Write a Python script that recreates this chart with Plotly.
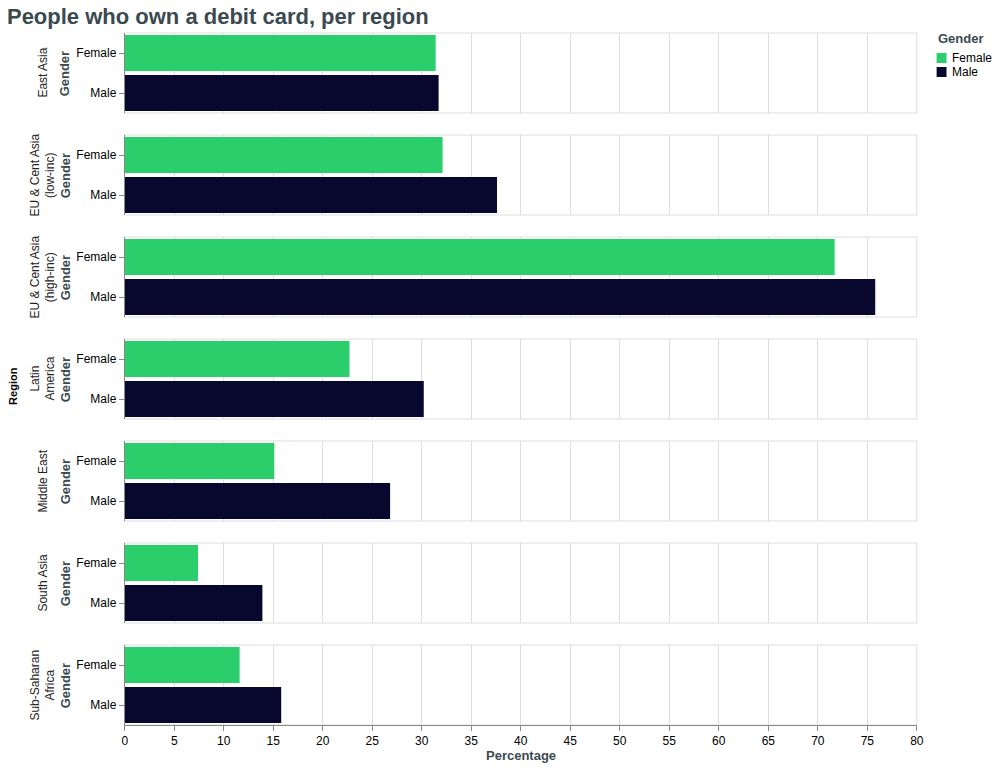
import plotly.graph_objects as go

# ---- data ----
regions = ["East Asia", "EU & Cent Asia (low-inc)", "EU & Cent Asia (high-inc)",
           "Latin America", "Middle East", "South Asia", "Sub-Saharan Africa"]
region_labels = ["East Asia", "EU & Cent Asia<br>(low-inc)", "EU & Cent Asia<br>(high-inc)",
                 "Latin<br>America", "Middle East", "South Asia", "Sub-Saharan<br>Africa"]
genders = ["Female", "Male"]
female_pct = [31.4, 32.1, 71.7, 22.7, 15.1, 7.4, 11.6]
male_pct = [31.7, 37.6, 75.8, 30.2, 26.8, 13.9, 15.8]
x_tick_vals = [0, 5, 10, 15, 20, 25, 30, 35, 40, 45, 50, 55, 60, 65, 70, 75, 80]

# ---- style ----
W, H = 1004, 767
FONT = "Liberation Sans, Arial, Helvetica, sans-serif"
GREEN = "#2acf6b"
NAVY = "#08082e"
SLATE = "#3a4a50"
GRID = "#dddddd"
AXIS = "#888888"
colors = {"Female": GREEN, "Male": NAVY}

X0, X1 = 123, 923
PANEL_TOP0, PANEL_H, PANEL_STEP = 33, 80, 102

def px(x):
    return x / W

def py(y):
    return 1 - y / H

fig = go.Figure()
shapes = []
annotations = []
n = len(regions)
values = {"Female": female_pct, "Male": male_pct}

for k in range(n):
    suffix = "" if k == 0 else str(k + 1)
    for g in genders:
        fig.add_trace(go.Bar(
            x=[values[g][k]], y=[g], orientation="h", name=g,
            marker=dict(color=colors[g], line=dict(width=0)),
            xaxis="x" + suffix, yaxis="y" + suffix, showlegend=False,
            hovertemplate=regions[k] + "<br>%{y}: %{x}%<extra></extra>",
        ))
    top = PANEL_TOP0 + k * PANEL_STEP
    bot = top + PANEL_H
    last = (k == n - 1)
    fig.layout["xaxis" + suffix] = dict(
        domain=[px(X0), px(X1)], anchor="y" + suffix, range=[0, 80],
        tickvals=x_tick_vals, showgrid=True, gridcolor=GRID, gridwidth=1,
        zeroline=False, showticklabels=last,
        ticks="outside" if last else "", ticklen=5, tickcolor=AXIS,
        showline=last, linecolor=AXIS, linewidth=1,
        tickfont=dict(size=12, color="#000", family=FONT), fixedrange=True,
    )
    fig.layout["yaxis" + suffix] = dict(
        domain=[py(bot), py(top)], anchor="x" + suffix, type="category",
        categoryorder="array", categoryarray=["Male", "Female"], range=[-0.5, 1.5],
        showline=True, linecolor=AXIS, linewidth=1, ticks="outside", ticklen=5,
        tickcolor=AXIS, showgrid=False, zeroline=False,
        tickfont=dict(size=12, color="#000", family=FONT), fixedrange=True,
    )
    shapes.append(dict(type="rect", xref="x" + suffix + " domain", yref="y" + suffix + " domain",
                       x0=0, x1=1, y0=0, y1=1, line=dict(color=GRID, width=1), layer="below"))
    cy = py((top + bot) / 2)
    annotations.append(dict(text="<b>Gender</b>", x=px(63), y=cy, xref="paper", yref="paper",
                            textangle=-90, showarrow=False, xanchor="center", yanchor="middle",
                            font=dict(size=13, color=SLATE, family=FONT)))
    annotations.append(dict(text=region_labels[k], x=px(40), y=cy, xref="paper", yref="paper",
                            textangle=-90, showarrow=False, xanchor="center", yanchor="middle",
                            font=dict(size=12, color="#222", family=FONT)))

annotations.append(dict(text="<b>Region</b>", x=px(10), y=py(386), xref="paper", yref="paper",
                        textangle=-90, showarrow=False, xanchor="center", yanchor="middle",
                        font=dict(size=11, color="#000", family=FONT)))
annotations.append(dict(text="<b>Percentage</b>", x=px(523), y=py(755), xref="paper", yref="paper",
                        showarrow=False, xanchor="center", yanchor="middle",
                        font=dict(size=13, color=SLATE, family=FONT)))

# legend (manual)
annotations.append(dict(text="<b>Gender</b>", x=px(942), y=py(38), xref="paper", yref="paper",
                        showarrow=False, xanchor="left", yanchor="middle",
                        font=dict(size=13, color=SLATE, family=FONT)))
for i, g in enumerate(genders):
    yc = 58 + 14 * i
    shapes.append(dict(type="rect", xref="paper", yref="paper",
                       x0=px(943), x1=px(953), y0=py(yc + 5), y1=py(yc - 5),
                       fillcolor=colors[g], line=dict(width=0)))
    annotations.append(dict(text=g, x=px(957), y=py(yc), xref="paper", yref="paper",
                            showarrow=False, xanchor="left", yanchor="middle",
                            font=dict(size=12, color="#000", family=FONT)))

fig.update_layout(
    width=W, height=H, margin=dict(l=0, r=0, t=0, b=0),
    paper_bgcolor="white", plot_bgcolor="white",
    bargap=0.1, showlegend=False,
    font=dict(family=FONT, size=12, color="#000"),
    title=dict(text="People who own a debit card, per region", x=px(4), xanchor="left",
               y=py(16), yanchor="middle", xref="paper", yref="container",
               font=dict(size=22, color=SLATE, family=FONT, weight="bold")),
    shapes=shapes, annotations=annotations,
)

fig.write_html("out.html")
